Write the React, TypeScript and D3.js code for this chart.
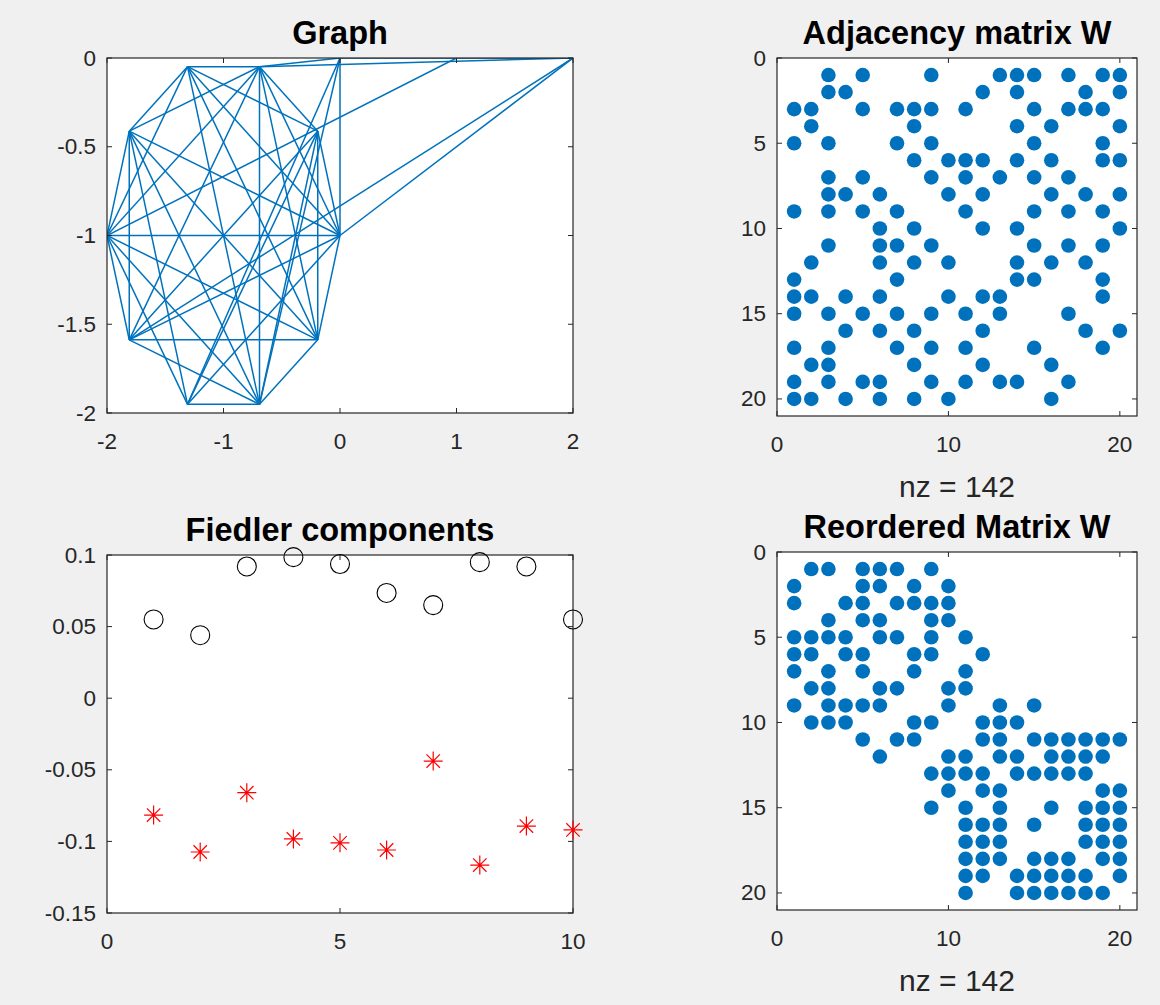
import React from 'react';
import * as d3 from 'd3';

// graph node positions (data units): decagon nodes P0..P9, then three nodes on y = 0
const nodeX = [0, -0.191, -0.691, -1.309, -1.809, -2, -1.809, -1.309, -0.691, -0.191, 0, 1, 2];
const nodeY = [-1, -0.412, -0.049, -0.049, -0.412, -1, -1.588, -1.951, -1.951, -1.588, 0, 0, 0];
const graphEdges: [number, number][] = [
  [5, 0], [6, 9], [7, 8], [3, 2], [2, 8], [4, 6], [1, 9], [10, 0],
  [3, 4], [3, 8], [3, 9], [3, 0], [3, 1], [3, 5],
  [2, 4], [2, 5], [2, 10], [2, 1], [2, 6], [2, 0], [2, 9], [2, 12],
  [4, 8], [4, 7], [4, 9], [4, 0], [5, 4], [5, 11], [5, 6], [5, 8], [5, 9],
  [6, 8], [6, 0], [6, 12], [7, 1], [7, 0], [7, 10], [7, 5],
  [8, 9], [8, 1], [8, 10], [9, 0], [0, 12], [1, 6], [10, 12], [1, 0],
];

// adjacency matrix W, nonzero columns of each row (1-based)
const adjRows: number[][] = [
  [3, 5, 9, 13, 14, 15, 17, 19, 20],
  [3, 4, 12, 14, 18, 20],
  [1, 2, 5, 7, 8, 9, 11, 15, 17, 18, 19],
  [2, 8, 14, 16, 20],
  [1, 3, 7, 9, 15, 19],
  [8, 10, 11, 12, 14, 16, 19, 20],
  [3, 5, 9, 11, 13, 15, 17],
  [3, 4, 6, 10, 12, 16, 18, 20],
  [1, 3, 5, 7, 11, 15, 17, 19],
  [6, 8, 12, 14, 20],
  [3, 6, 7, 9, 15, 17, 19],
  [2, 6, 8, 10, 14, 16, 18],
  [1, 7, 14, 15, 19],
  [1, 2, 4, 6, 10, 12, 13, 19],
  [1, 3, 5, 7, 9, 11, 13, 17],
  [4, 6, 8, 12, 18, 20],
  [1, 3, 7, 9, 11, 15, 19],
  [2, 3, 8, 12, 16],
  [1, 3, 5, 6, 9, 11, 13, 14, 17],
  [1, 2, 4, 6, 8, 10, 16],
];

// reordered matrix W
const reordRows: number[][] = [
  [2, 3, 5, 6, 7, 9],
  [1, 5, 6, 8, 10],
  [1, 4, 5, 7, 8, 9, 10],
  [3, 5, 6, 9, 10],
  [1, 2, 3, 4, 6, 7, 9, 11],
  [1, 2, 4, 5, 8, 9, 12],
  [1, 3, 5, 8, 11],
  [2, 3, 6, 7, 10, 11],
  [1, 3, 4, 5, 6, 10, 13, 15],
  [2, 3, 4, 8, 9, 12, 13, 14],
  [5, 7, 8, 12, 13, 15, 16, 17, 18, 19, 20],
  [6, 10, 11, 13, 14, 16, 17, 18, 19],
  [9, 10, 11, 12, 14, 15, 16, 17, 18],
  [10, 12, 13, 19, 20],
  [9, 11, 13, 16, 18, 19, 20],
  [11, 12, 13, 15, 18, 19, 20],
  [11, 12, 13, 18, 19, 20],
  [11, 12, 13, 15, 16, 17, 19, 20],
  [11, 12, 14, 15, 16, 17, 18, 20],
  [11, 14, 15, 16, 17, 18, 19],
];

// Fiedler vector components
const fiedlerIdx = [1, 2, 3, 4, 5, 6, 7, 8, 9, 10];
const fiedlerPos = [0.055, 0.044, 0.092, 0.0985, 0.0937, 0.0735, 0.065, 0.095, 0.092, 0.055];
const fiedlerNeg = [-0.0816, -0.1074, -0.066, -0.0983, -0.101, -0.106, -0.0439, -0.1165, -0.0893, -0.092];

const graphXTicks = [-2, -1, 0, 1, 2];
const graphYTicks = [0, -0.5, -1, -1.5, -2];
const spyXTicks = [0, 10, 20];
const spyYTicks = [0, 5, 10, 15, 20];
const fiedXTicks = [0, 5, 10];
const fiedYTicks = [0.1, 0.05, 0, -0.05, -0.1, -0.15];

const FONT = 'Liberation Sans, Arial, Helvetica, sans-serif';
const BLUE = '#0072BD';
const AX = '#262626';
const TICK_FS = 22.5;
const TITLE_FS = 32.5;
const LABEL_FS = 30;

type Scale = d3.ScaleLinear<number, number>;

const Axes = ({ x, y, xt, yt, title, id, children, free }: {
  x: Scale; y: Scale; xt: number[]; yt: number[]; title: string; id: string;
  children?: React.ReactNode; free?: React.ReactNode;
}) => {
  const [l, r] = x.range();
  const [t, b] = y.range();
  const tk = 5;
  return (
    <g>
      <rect x={l} y={t} width={r - l} height={b - t} fill="#fff" />
      <clipPath id={id}><rect x={l} y={t} width={r - l} height={b - t} /></clipPath>
      <g clipPath={`url(#${id})`}>{children}</g>
      <rect x={l} y={t} width={r - l} height={b - t} fill="none" stroke={AX} strokeWidth={1.2} />
      {xt.map(v => (
        <g key={'x' + v}>
          <line x1={x(v)} x2={x(v)} y1={b} y2={b - tk} stroke={AX} />
          <line x1={x(v)} x2={x(v)} y1={t} y2={t + tk} stroke={AX} />
          <text x={x(v)} y={b + 28} textAnchor="middle" dominantBaseline="central"
            fontSize={TICK_FS} fontFamily={FONT} fill={AX}>{String(v)}</text>
        </g>
      ))}
      {yt.map(v => (
        <g key={'y' + v}>
          <line x1={l} x2={l + tk} y1={y(v)} y2={y(v)} stroke={AX} />
          <line x1={r} x2={r - tk} y1={y(v)} y2={y(v)} stroke={AX} />
          <text x={l - 11} y={y(v)} textAnchor="end" dominantBaseline="central"
            fontSize={TICK_FS} fontFamily={FONT} fill={AX}>{String(v)}</text>
        </g>
      ))}
      {free}
      <text x={(l + r) / 2} y={t - 25} textAnchor="middle" dominantBaseline="central"
        fontSize={TITLE_FS} fontWeight="bold" fontFamily={FONT} fill="#000">{title}</text>
    </g>
  );
};

const SpyDots = ({ rows, x, y }: { rows: number[][]; x: Scale; y: Scale }) => (
  <g>
    {rows.flatMap((cols, i) => cols.map(c => (
      <circle key={i + '-' + c} cx={x(c)} cy={y(i + 1)} r={7.3} fill={BLUE} />
    )))}
  </g>
);

const star = (s: number) => {
  const d = s * Math.SQRT1_2;
  return `M${-s},0H${s}M0,${-s}V${s}M${-d},${-d}L${d},${d}M${-d},${d}L${d},${-d}`;
};

const App = () => {
  const gx = d3.scaleLinear().domain([-2, 2]).range([107, 573]);
  const gy = d3.scaleLinear().domain([0, -2]).range([58, 413]);
  const ax = d3.scaleLinear().domain([0, 21]).range([777, 1137]);
  const ay = d3.scaleLinear().domain([0, 21]).range([58, 416]);
  const fx = d3.scaleLinear().domain([0, 10]).range([107, 573]);
  const fy = d3.scaleLinear().domain([0.1, -0.15]).range([555, 913]);
  const rx = d3.scaleLinear().domain([0, 21]).range([777, 1137]);
  const ry = d3.scaleLinear().domain([0, 21]).range([552, 910]);
  const nzA = d3.sum(adjRows, r => r.length);
  const nzR = d3.sum(reordRows, r => r.length);

  const fiedlerMarks = (
    <g>
      {fiedlerIdx.map((v, i) => (
        <circle key={'o' + i} cx={fx(v)} cy={fy(fiedlerPos[i])} r={9.5} fill="none" stroke="#000" strokeWidth={1.1} />
      ))}
      {fiedlerIdx.map((v, i) => (
        <path key={'s' + i} d={star(9.5)} transform={`translate(${fx(v)},${fy(fiedlerNeg[i])})`}
          stroke="#ff0000" strokeWidth={1.2} fill="none" />
      ))}
    </g>
  );

  return (
    <svg width={1160} height={1005} style={{ position: 'absolute', left: 0, top: 0 }}>
      <rect width={1160} height={1005} fill="#f0f0f0" />

      <Axes x={gx} y={gy} xt={graphXTicks} yt={graphYTicks} title="Graph" id="c1">
        {graphEdges.map(([a, b], i) => (
          <line key={i} x1={gx(nodeX[a])} y1={gy(nodeY[a])} x2={gx(nodeX[b])} y2={gy(nodeY[b])}
            stroke={BLUE} strokeWidth={1.5} />
        ))}
      </Axes>

      <Axes x={ax} y={ay} xt={spyXTicks} yt={spyYTicks} title="Adjacency matrix W" id="c2">
        <SpyDots rows={adjRows} x={ax} y={ay} />
      </Axes>
      <text x={957} y={486} textAnchor="middle" dominantBaseline="central" fontSize={LABEL_FS}
        fontFamily={FONT} fill={AX}>{`nz = ${nzA}`}</text>

      <Axes x={fx} y={fy} xt={fiedXTicks} yt={fiedYTicks} title="Fiedler components" id="c3" free={fiedlerMarks} />

      <Axes x={rx} y={ry} xt={spyXTicks} yt={spyYTicks} title="Reordered Matrix W" id="c4">
        <SpyDots rows={reordRows} x={rx} y={ry} />
      </Axes>
      <text x={957} y={980} textAnchor="middle" dominantBaseline="central" fontSize={LABEL_FS}
        fontFamily={FONT} fill={AX}>{`nz = ${nzR}`}</text>
    </svg>
  );
};

export default App;
